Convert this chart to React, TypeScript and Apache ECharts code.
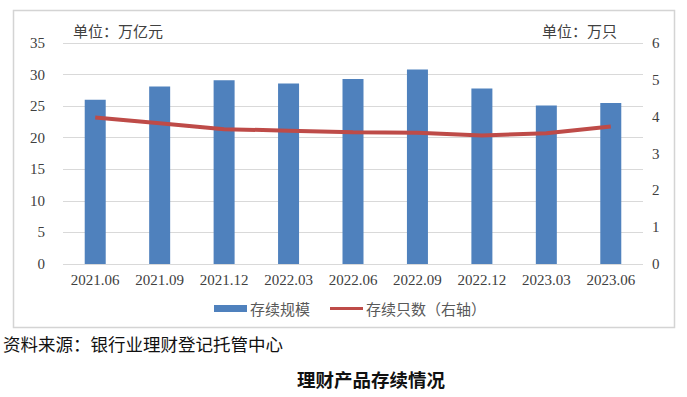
import React, { useEffect, useRef } from "react";
import * as echarts from "echarts";

const categories = ["2021.06", "2021.09", "2021.12", "2022.03", "2022.06", "2022.09", "2022.12", "2023.03", "2023.06"];
const scaleValues = [26.0, 28.1, 29.1, 28.6, 29.3, 30.8, 27.8, 25.1, 25.5];
const countValues = [3.98, 3.82, 3.66, 3.62, 3.58, 3.56, 3.49, 3.55, 3.73];
const leftTicks = { min: 0, max: 35, interval: 5 };
const rightTicks = { min: 0, max: 6, interval: 1 };

const serif = "'Liberation Serif', 'Noto Sans CJK SC', serif";
const cjk = "'Noto Sans CJK SC', sans-serif";

export default function App() {
  const ref = useRef<HTMLDivElement>(null);
  useEffect(() => {
    if (!ref.current) return;
    const chart = echarts.init(ref.current, null, { renderer: "svg" });
    chart.setOption({
      animation: false,
      backgroundColor: "#ffffff",
      grid: { left: 63, right: 44, top: 43, bottom: 133, containLabel: false },
      legend: {
        data: [
          { name: "存续规模", icon: "rect" },
          { name: "存续只数（右轴）", icon: "path://M0,0 L0.01,0 L0.01,0.01 Z M0,2 L33,2 L33,5 L0,5 Z M0,7 L0.01,7 L0.01,6.99 Z" },
        ],
        left: 209,
        top: 296,
        itemWidth: 33,
        itemHeight: 7,
        itemGap: 20,
        textStyle: { fontFamily: cjk, fontSize: 15, color: "#595959", padding: [0, 0, 0, -2] },
      },
      xAxis: {
        type: "category",
        data: categories,
        axisLine: { show: false },
        axisTick: { show: false },
        axisLabel: { fontFamily: serif, fontSize: 15, color: "#404040", margin: 8 },
      },
      yAxis: [
        {
          type: "value",
          ...leftTicks,
          axisLine: { show: false },
          axisTick: { show: false },
          splitLine: { lineStyle: { color: "#D9D9D9", width: 1 } },
          axisLabel: { fontFamily: serif, fontSize: 15, color: "#404040", margin: 18 },
        },
        {
          type: "value",
          ...rightTicks,
          position: "right",
          axisLine: { show: false },
          axisTick: { show: false },
          splitLine: { show: false },
          axisLabel: { fontFamily: serif, fontSize: 15, color: "#404040", margin: 9 },
        },
      ],
      series: [
        {
          name: "存续规模",
          type: "bar",
          data: scaleValues,
          barWidth: 21,
          itemStyle: { color: "#4F81BD" },
        },
        {
          name: "存续只数（右轴）",
          type: "line",
          yAxisIndex: 1,
          data: countValues,
          symbol: "none",
          lineStyle: { color: "#BE4B48", width: 4 },
          itemStyle: { color: "#BE4B48" },
        },
      ],
      graphic: [
        {
          type: "rect",
          shape: { x: 13.5, y: 10.5, width: 661, height: 317 },
          style: { fill: "none", stroke: "#D4D4D4", lineWidth: 1.5 },
          silent: true,
        },
        {
          type: "text",
          x: 73,
          y: 23,
          style: { text: "单位：万亿元", font: `15px ${cjk}`, fill: "#404040" },
        },
        {
          type: "text",
          x: 617,
          y: 23,
          style: { text: "单位：万只", font: `15px ${cjk}`, fill: "#404040", textAlign: "right" },
        },
        {
          type: "text",
          x: 3,
          y: 335,
          style: { text: "资料来源：银行业理财登记托管中心", font: `17.5px ${cjk}`, fill: "#111111" },
        },
        {
          type: "text",
          x: 371,
          y: 370,
          style: { text: "理财产品存续情况", font: `bold 18.5px ${cjk}`, fill: "#111111", textAlign: "center" },
        },
      ],
    });
    return () => chart.dispose();
  }, []);
  return (
    <div
      ref={ref}
      style={{ position: "fixed", left: 0, top: 0, width: 687, height: 397 }}
    />
  );
}
